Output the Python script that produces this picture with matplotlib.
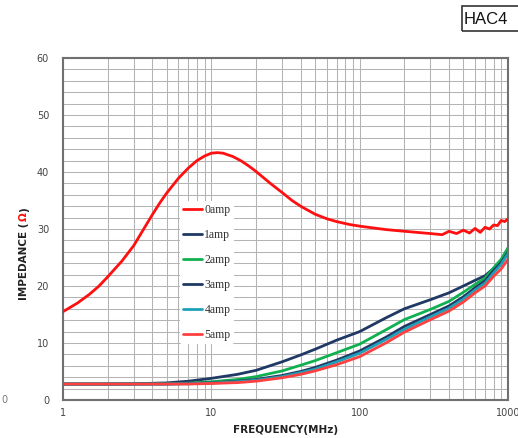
import matplotlib
matplotlib.use("Agg")
import matplotlib.pyplot as plt
from matplotlib.patches import Rectangle

# impedance vs frequency
freq_0amp = [1, 1.25, 1.5, 1.75, 2, 2.5, 3, 3.5, 4, 4.5, 5, 6, 7, 8, 9, 10, 11, 12,
             14, 16, 18, 20, 25, 30, 35, 40, 50, 60, 70, 85, 100, 150, 200, 300,
             360, 400, 450, 500, 550, 600, 650, 700, 750, 800, 850, 900, 950, 1000]
z_0amp = [15.5, 17.0, 18.5, 20.0, 21.6, 24.4, 27.1, 30.0, 32.5, 34.6, 36.3, 38.9,
          40.7, 42.0, 42.8, 43.3, 43.4, 43.3, 42.7, 41.9, 41.0, 40.1, 38.0, 36.4,
          35.0, 34.0, 32.6, 31.8, 31.3, 30.8, 30.5, 29.9, 29.6, 29.2, 29.0, 29.6,
          29.2, 29.8, 29.3, 30.1, 29.4, 30.3, 30.0, 30.7, 30.6, 31.5, 31.3, 31.8]

freq = [1, 2, 3, 5, 7, 10, 15, 20, 30, 40, 50, 70, 100, 150, 200, 300, 400, 500,
        600, 700, 800, 900, 1000]
z_1amp = [2.8, 2.8, 2.85, 3.0, 3.3, 3.8, 4.5, 5.2, 6.7, 7.9, 8.9, 10.5, 12.0, 14.4,
          16.0, 17.6, 18.8, 20.0, 21.0, 21.8, 23.1, 24.3, 26.0]
z_2amp = [2.8, 2.8, 2.8, 2.85, 2.95, 3.2, 3.6, 4.1, 5.1, 6.1, 6.9, 8.3, 9.8, 12.3,
          14.1, 15.9, 17.3, 18.9, 20.3, 21.4, 23.2, 24.7, 26.7]
z_3amp = [2.8, 2.8, 2.8, 2.8, 2.9, 3.0, 3.3, 3.6, 4.3, 5.0, 5.7, 7.0, 8.6, 11.0,
          12.9, 15.0, 16.5, 18.1, 19.7, 20.9, 22.7, 24.1, 25.9]
z_4amp = [2.8, 2.8, 2.8, 2.8, 2.85, 2.95, 3.2, 3.45, 4.1, 4.8, 5.4, 6.7, 8.2, 10.6,
          12.4, 14.6, 16.1, 17.7, 19.3, 20.5, 22.3, 23.8, 25.7]
z_5amp = [2.8, 2.8, 2.8, 2.8, 2.8, 2.9, 3.05, 3.3, 3.9, 4.5, 5.1, 6.2, 7.6, 10.0,
          11.9, 14.1, 15.6, 17.2, 18.8, 20.0, 21.7, 23.0, 24.7]

labels = ["0amp", "1amp", "2amp", "3amp", "4amp", "5amp"]
colors = ["#ff1010", "#1f3864", "#10b050", "#1f3864", "#20a0b8", "#ff4040"]
y_ticks = [0, 10, 20, 30, 40, 50, 60]
x_ticks = [1, 10, 100, 1000]

fig = plt.figure(figsize=(5.18, 4.38), dpi=100)
ax = fig.add_axes([63 / 518, 1 - 400 / 438, 445 / 518, 342 / 438])

series = [(freq_0amp, z_0amp), (freq, z_1amp), (freq, z_2amp),
          (freq, z_3amp), (freq, z_4amp), (freq, z_5amp)]
lines = []
for (x, y), lab, c in zip(series, labels, colors):
    ln, = ax.plot(x, y, color=c, lw=2.0, label=lab, solid_capstyle="round",
                  solid_joinstyle="round")
    lines.append(ln)
lines[0].set_zorder(5)

ax.set_xscale("log")
ax.set_xlim(1, 1000)
ax.set_ylim(0, 60)
ax.set_yticks(y_ticks)
ax.set_yticks(range(0, 61, 2), minor=True)
ax.set_xticks(x_ticks)
ax.set_xticklabels([str(v) for v in x_ticks])
ax.grid(True, which="both", color="#b4b4b4", lw=0.75)
ax.set_axisbelow(True)
ax.tick_params(which="both", length=0)
ax.tick_params(axis="y", pad=10, labelsize=7, labelcolor="#444444")
ax.tick_params(axis="x", pad=6, labelsize=7, labelcolor="#444444")
for s in ax.spines.values():
    s.set_color("#707070")
    s.set_linewidth(1.5)

ax.set_xlabel("FREQUENCY(MHz)", fontsize=7.5, fontweight="bold", color="#222222",
              labelpad=5)

leg = ax.legend(loc="upper left", bbox_to_anchor=(0.262, 0.582), frameon=True,
                facecolor="white", edgecolor="none", framealpha=1,
                prop={"family": "Liberation Serif", "size": 8.5},
                handlelength=1.6, handletextpad=0.2, labelspacing=1.09,
                borderpad=0.3, borderaxespad=0)
for t in leg.get_texts():
    t.set_color("#333333")

# y label with a red Omega
fig.canvas.draw()
r = fig.canvas.get_renderer()
lx, ly = 24 / 518, 1 - 300 / 438
t1 = fig.text(lx, ly, "IMPEDANCE (", rotation=90, fontsize=7.5, fontweight="bold",
              color="#222222", ha="center", va="bottom")
bb = t1.get_window_extent(r)
t2 = fig.text(lx, (bb.y1 + 1) / fig.bbox.height, "\u03a9", rotation=90, fontsize=7.5,
              fontweight="bold", color="#ff1010", ha="center", va="bottom")
bb2 = t2.get_window_extent(r)
fig.text(lx, (bb2.y1 + 1) / fig.bbox.height, ")", rotation=90, fontsize=7.5,
         fontweight="bold", color="#222222", ha="center", va="bottom")

# cropped part-number box and stray label from the neighbouring chart
fig.patches.append(Rectangle((462 / 518, 1 - 31 / 438), 80 / 518, 25 / 438,
                             transform=fig.transFigure, fill=False,
                             edgecolor="#333333", lw=1.2))
fig.text(464 / 518, 1 - 19 / 438, "HAC4", fontsize=12, family="Liberation Sans",
         va="center", ha="left", color="#111111")
fig.text(1 / 518, 1 - 400 / 438, "0", fontsize=7, color="#777777", va="center")

fig.savefig("out.png", dpi=100)
